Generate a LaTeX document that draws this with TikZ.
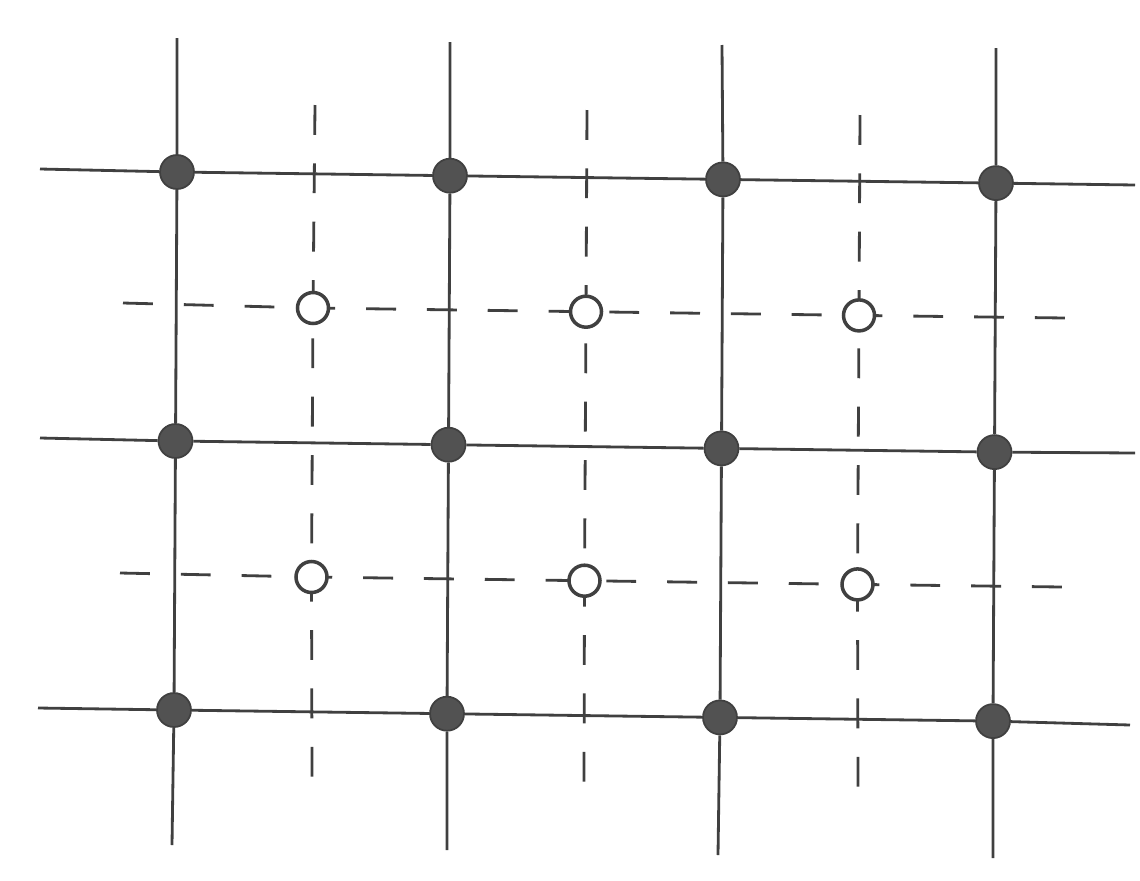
\documentclass[tikz,border=0pt]{standalone}
\begin{document}
\begin{tikzpicture}[x=1cm,y=1cm,
    solid line/.style={line width=0.8pt,draw=black!75},
    dash row/.style={dash pattern=on 8.5pt off 8.8pt,line width=0.8pt,draw=black!75},
    dash col/.style={dash pattern=on 8.5pt off 8.1pt,line width=0.8pt,draw=black!75},
    atom/.style={circle,fill=black!68,draw=black!75,line width=0.5pt,minimum size=0.34cm,inner sep=0pt},
    hole/.style={circle,fill=white,draw=black!75,line width=1pt,minimum size=0.31cm,inner sep=0pt}]
  \useasboundingbox (0,0) rectangle (11.4,-8.8);
  % centres of the open sites
  \foreach \i in {0,1,2}
    \foreach \j in {0,1}
      \coordinate (c\i\j) at ({3.13+2.73*\i-0.015*\j}, {-3.08-2.69*\j-0.037*\i});
  % ends of the dashed lines
  \coordinate (dl0) at (1.23,-3.03);
  \coordinate (dr0) at (10.65,-3.18);
  \coordinate (dl1) at (1.20,-5.73);
  \coordinate (dr1) at (10.62,-5.87);
  \coordinate (dt0) at (3.15,-1.05);
  \coordinate (db0) at (3.12,-7.80);
  \coordinate (dt1) at (5.87,-1.10);
  \coordinate (db1) at (5.84,-7.85);
  \coordinate (dt2) at (8.60,-1.15);
  \coordinate (db2) at (8.58,-7.90);
  % dashed grid
  \foreach \j in {0,1}
    \draw[dash row] (dl\j) -- (c0\j) -- (c1\j) -- (c2\j) -- (dr\j);
  \foreach \i in {0,1,2}
    \draw[dash col] (dt\i) -- (c\i0) -- (c\i1) -- (db\i);
  % open sites
  \foreach \i in {0,1,2}
    \foreach \j in {0,1}
      \node[hole] (h\i\j) at (c\i\j) {};
  % filled sites
  \foreach \i in {0,...,3}
    \foreach \j in {0,1,2}
      \node[atom] (a\i\j) at ({1.77+2.73*\i-0.015*\j}, {-1.72-2.69*\j-0.037*\i}) {};
  % ends of the solid lines
  \coordinate (sl0) at (0.40,-1.69);
  \coordinate (sr0) at (11.35,-1.85);
  \coordinate (sl1) at (0.40,-4.38);
  \coordinate (sr1) at (11.35,-4.53);
  \coordinate (sl2) at (0.38,-7.08);
  \coordinate (sr2) at (11.30,-7.25);
  \coordinate (st0) at (1.77,-0.38);
  \coordinate (sb0) at (1.72,-8.45);
  \coordinate (st1) at (4.50,-0.42);
  \coordinate (sb1) at (4.47,-8.50);
  \coordinate (st2) at (7.22,-0.45);
  \coordinate (sb2) at (7.18,-8.55);
  \coordinate (st3) at (9.96,-0.48);
  \coordinate (sb3) at (9.93,-8.58);
  % solid grid
  \foreach \j in {0,1,2}
    \draw[solid line] (sl\j) -- (a0\j) -- (a1\j) -- (a2\j) -- (a3\j) -- (sr\j);
  \foreach \i in {0,...,3}
    \draw[solid line] (st\i) -- (a\i0) -- (a\i1) -- (a\i2) -- (sb\i);
\end{tikzpicture}
\end{document}
